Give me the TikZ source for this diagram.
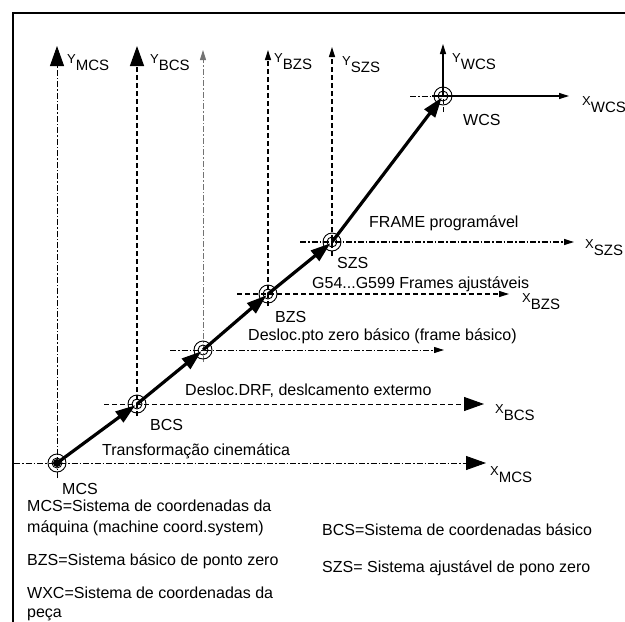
\documentclass[tikz,border=0pt]{standalone}
\usepackage{fontspec}
\setmainfont{Liberation Sans}
\usetikzlibrary{arrows.meta}
\newcommand\axl[2]{{\fontsize{13}{13}\selectfont #1}\raisebox{-7pt}{\fontsize{15}{15}\selectfont #2}}
\begin{document}
\begin{tikzpicture}[x=1pt,y=-1pt,
  lbl/.style={anchor=base west,inner sep=0pt,font=\fontsize{16}{21}\selectfont},
  axlbl/.style={anchor=base west,inner sep=0pt},
  dashdot/.style={dash pattern=on 6pt off 2pt on 1.5pt off 2pt},
  dashline/.style={dash pattern=on 5pt off 3pt},
  bigtip/.style={-{Triangle[length=20pt,width=14pt]}},
  smalltip/.style={-{Triangle[length=10pt,width=6pt]}},
  vec/.style={line width=3.2pt,-{Triangle[length=20pt,width=13pt]},shorten >=2pt},
  origin/.style={line width=0.9pt}]
\useasboundingbox (0,0) rectangle (625,622);
% frame
\draw[line width=1.5pt] (13,622) -- (13,13) -- (625,13);
% origins
\coordinate (mcs) at (57,463);
\coordinate (bcs) at (137,404);
\coordinate (drf) at (203,350);
\coordinate (bzs) at (268,294);
\coordinate (szs) at (332,242);
\coordinate (wcs) at (443,96);
% axis end points
\coordinate (mcsYb) at (57,478);  \coordinate (mcsYt) at (57,46);
\coordinate (mcsXl) at (14,463);  \coordinate (mcsXr) at (486,463);
\coordinate (bcsYb) at (137,416); \coordinate (bcsYt) at (137,46);
\coordinate (bcsXl) at (104,404); \coordinate (bcsXr) at (484,404);
\coordinate (drfYb) at (203,362); \coordinate (drfYt) at (203,50);
\coordinate (drfXl) at (170,350); \coordinate (drfXr) at (444,350);
\coordinate (bzsYb) at (268,306); \coordinate (bzsYt) at (268,50);
\coordinate (bzsXl) at (237,294); \coordinate (bzsXr) at (509,294);
\coordinate (szsYb) at (332,256); \coordinate (szsYt) at (332,47);
\coordinate (szsXl) at (300,242); \coordinate (szsXr) at (574,242);
\coordinate (wcsYb) at (443,112); \coordinate (wcsYt) at (443,44);
\coordinate (wcsXl) at (410,96);  \coordinate (wcsXm) at (432,96); \coordinate (wcsXr) at (569,96);
% MCS axes
\draw[dashdot,line width=0.9pt,bigtip] (mcsYb) -- (mcsYt);
\draw[dashdot,line width=0.9pt,bigtip] (mcsXl) -- (mcsXr);
% BCS axes
\draw[dashline,line width=1.4pt,bigtip] (bcsYb) -- (bcsYt);
\draw[dashline,line width=1pt,bigtip] (bcsXl) -- (bcsXr);
% DRF axes
\draw[dashdot,line width=1pt,draw=black!55,smalltip] (drfYb) -- (drfYt);
\draw[dashdot,line width=1pt,smalltip] (drfXl) -- (drfXr);
% BZS axes
\draw[dashline,line width=1.4pt,smalltip] (bzsYb) -- (bzsYt);
\draw[dashline,line width=1.2pt,smalltip] (bzsXl) -- (bzsXr);
% SZS axes
\draw[dashline,line width=1.2pt,smalltip] (szsYb) -- (szsYt);
\draw[dashdot,line width=1.2pt,smalltip] (szsXl) -- (szsXr);
% WCS axes
\draw[dashline,line width=0.9pt] (wcsYb) -- (wcs);
\draw[line width=1.2pt,smalltip] (wcs) -- (wcsYt);
\draw[dashdot,line width=1pt] (wcsXl) -- (wcsXm);
\draw[line width=1.2pt,smalltip] (wcsXm) -- (wcsXr);
% origin symbols
\foreach \o in {mcs,bcs,drf,bzs,szs,wcs}{
  \draw[origin] (\o) circle (9pt);
  \draw[origin] (\o) circle (5pt);
}
\fill (mcs) circle (4pt);
% transformation vectors
\draw[vec] (mcs) -- (bcs);
\draw[vec] (bcs) -- (drf);
\draw[vec] (drf) -- (bzs);
\draw[vec] (bzs) -- (szs);
\draw[vec] (szs) -- (wcs);
% axis labels
\node[axlbl] (lYmcs) at (67,63) {\axl{Y}{MCS}};
\node[axlbl] (lYbcs) at (150,63) {\axl{Y}{BCS}};
\node[axlbl] (lYbzs) at (274,62) {\axl{Y}{BZS}};
\node[axlbl] (lYszs) at (342,65) {\axl{Y}{SZS}};
\node[axlbl] (lYwcs) at (452,62) {\axl{Y}{WCS}};
\node[axlbl] (lXwcs) at (582,105) {\axl{X}{WCS}};
\node[axlbl] (lXszs) at (585,248) {\axl{X}{SZS}};
\node[axlbl] (lXbzs) at (522,302) {\axl{X}{BZS}};
\node[axlbl] (lXbcs) at (495,413) {\axl{X}{BCS}};
\node[axlbl] (lXmcs) at (490,475) {\axl{X}{MCS}};
% other labels
\node[lbl] (twcs) at (463,125) {WCS};
\node[lbl] (tframe) at (369,227) {FRAME programável};
\node[lbl] (tszs) at (337,268) {SZS};
\node[lbl] (tg54) at (312,288) {G54...G599 Frames ajustáveis};
\node[lbl] (tbzs) at (275,322) {BZS};
\node[lbl] (tpto) at (248,340) {Desloc.pto zero básico (frame básico)};
\node[lbl] (tdrf) at (185,395) {Desloc.DRF, deslcamento extermo};
\node[lbl] (tbcs) at (150,430) {BCS};
\node[lbl] (ttrans) at (102,455) {Transformação cinemática};
\node[lbl] (tmcs) at (62,494) {MCS};
\node[lbl] (dmcs1) at (27,511) {MCS=Sistema de coordenadas da};
\node[lbl] (dmcs2) at (27,532) {máquina (machine coord.system)};
\node[lbl] (dbzs) at (27,565) {BZS=Sistema básico de ponto zero};
\node[lbl] (dwxc1) at (27,598) {WXC=Sistema de coordenadas da};
\node[lbl] (dwxc2) at (27,617) {peça};
\node[lbl] (dbcs) at (322,535) {BCS=Sistema de coordenadas básico};
\node[lbl] (dszs) at (322,572) {SZS= Sistema ajustável de pono zero};
\end{tikzpicture}
\end{document}
